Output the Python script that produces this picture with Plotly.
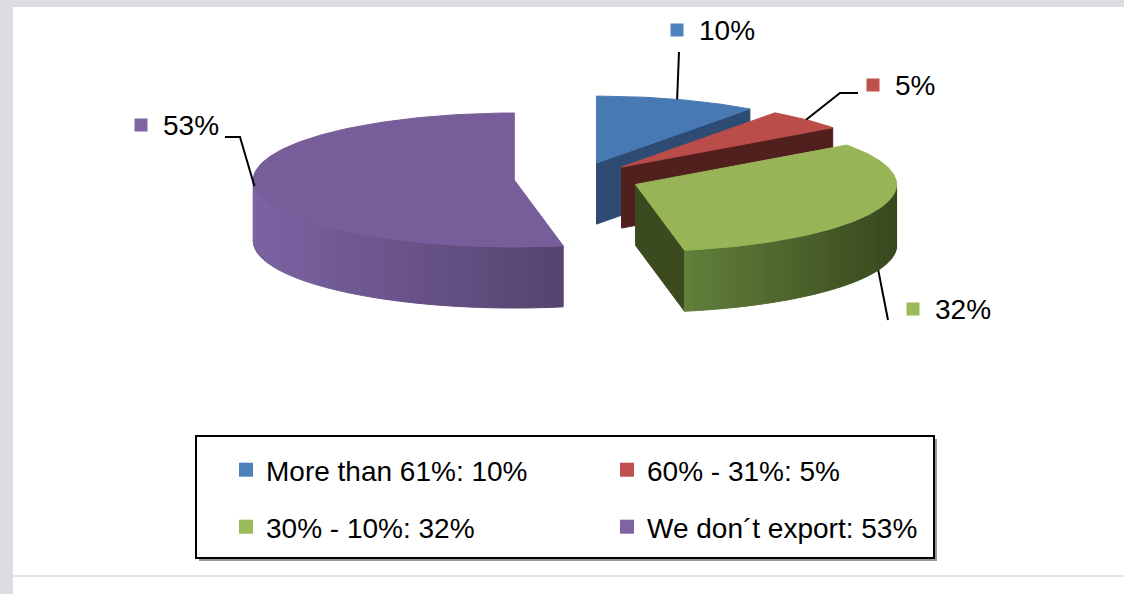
import numpy as np
import plotly.graph_objects as go

# ---- data -------------------------------------------------------------
categories = ["More than 61%", "60% - 31%", "30% - 10%", "We don\u00b4t export"]
shares = [10, 5, 32, 53]

# ---- styling ----------------------------------------------------------
top_colors = ["#4879b3", "#ba4c49", "#97b556", "#775d99"]
legend_colors = ["#4f81bd", "#c0504d", "#9bbb59", "#8064a2"]
face_colors = ["#2d4b73", "#521f1f", "#3c4a1f", "#574470"]
wall_light = ["#4a7bb5", "#9a3f3c", "#61803a", "#7b63a2"]
wall_dark = ["#2d4b73", "#521f1f", "#39481e", "#56436f"]

FONT = "Liberation Sans, Arial, sans-serif"
W, H = 1124, 594

# pie geometry in page pixels
CX, CY = 577.0, 178.5
RX, RY = 261.0, 67.0
DEPTH = 61.0
EXPLODE = 63.0

# label placement: square marker centre, leader path from the slice to the label
label_layout = [
    dict(square=(677, 30), leader=[(679, 52)], anchor="top"),
    dict(square=(873, 85), leader=[(840, 93), (858, 93)], anchor="top"),
    dict(square=(913, 309), leader=[(888, 320)], anchor="bottom"),
    dict(square=(141, 125), leader=[(240, 137), (225, 137)], anchor="top"),
]


def hex_rgb(h):
    h = h.lstrip("#")
    return np.array([int(h[i:i + 2], 16) for i in (0, 2, 4)], dtype=float)


def mix(c1, c2, t):
    a, b = hex_rgb(c1), hex_rgb(c2)
    r = a + (b - a) * t
    return "rgb({:.0f},{:.0f},{:.0f})".format(*r)


def point(theta, ox, oy, r=1.0, dz=0.0):
    t = np.radians(theta)
    return ox + RX * r * np.sin(t), oy - RY * r * np.cos(t) + dz


def poly(fig, xs, ys, color):
    fig.add_trace(go.Scatter(
        x=list(xs) + [xs[0]], y=list(ys) + [ys[0]], mode="lines",
        fill="toself", fillcolor=color, line=dict(color=color, width=1),
        hoverinfo="skip", showlegend=False))


fig = go.Figure()

total = float(sum(shares))
bounds = np.concatenate([[0.0], np.cumsum(shares) / total * 360.0])
slices = []
for i, v in enumerate(shares):
    a0, a1 = bounds[i], bounds[i + 1]
    mid = 0.5 * (a0 + a1)
    ox = CX + EXPLODE * np.sin(np.radians(mid))
    oy = CY - EXPLODE * (RY / RX) * np.cos(np.radians(mid))
    slices.append((a0, a1, mid, ox, oy))

# slices are painted back to front: each one gets its visible faces, then its top
for i, (a0, a1, mid, ox, oy) in enumerate(slices):
    # radial side faces that turn towards the viewer
    for edge, normal in ((a0, a0 - 90.0), (a1, a1 + 90.0)):
        if np.cos(np.radians(normal)) < -0.05:
            ex, ey = point(edge, ox, oy)
            poly(fig, [ox, ex, ex, ox], [oy, ey, ey + DEPTH, oy + DEPTH], face_colors[i])

    # front part of the curved outer wall, shaded left to right
    w0, w1 = max(a0, 90.0), min(a1, 270.0)
    if w0 < w1:
        n = max(int((w1 - w0) / 2.0), 2)
        th = np.linspace(w0, w1, n + 1)
        px = [point(t, ox, oy)[0] for t in th]
        xmin, xmax = min(px), max(px)
        for k in range(n):
            ta, tb = th[k], th[k + 1]
            xa, ya = point(ta, ox, oy)
            xb, yb = point(tb, ox, oy)
            tmix = ((xa + xb) / 2 - xmin) / (xmax - xmin)
            col = mix(wall_light[i], wall_dark[i], tmix)
            poly(fig, [xa, xb, xb, xa], [ya, yb, yb + DEPTH, ya + DEPTH], col)

    # top surface
    th = np.linspace(a0, a1, max(int(a1 - a0), 4) + 1)
    xs = [ox] + [point(t, ox, oy)[0] for t in th]
    ys = [oy] + [point(t, ox, oy)[1] for t in th]
    poly(fig, xs, ys, top_colors[i])

# data labels with leader lines
annotations = []
for i, (a0, a1, mid, ox, oy) in enumerate(slices):
    lay = label_layout[i]
    sx, sy = point(mid, ox, oy)
    if lay["anchor"] == "bottom":
        sy += DEPTH
    lx = [sx] + [p[0] for p in lay["leader"]]
    ly = [sy] + [p[1] for p in lay["leader"]]
    fig.add_trace(go.Scatter(x=lx, y=ly, mode="lines", line=dict(color="black", width=2),
                             hoverinfo="skip", showlegend=False))
    qx, qy = lay["square"]
    fig.add_trace(go.Scatter(x=[qx], y=[qy], mode="markers",
                             marker=dict(symbol="square", size=13, color=legend_colors[i]),
                             hoverinfo="skip", showlegend=False))
    annotations.append(dict(x=qx + 20, y=qy, xref="x", yref="y", text=f"{shares[i]}%",
                            showarrow=False, xanchor="left", yanchor="middle",
                            font=dict(family=FONT, size=28, color="black")))

# legend entries: two rows of two
for i, (cat, v) in enumerate(zip(categories, shares)):
    fig.add_trace(go.Scatter(
        x=[None], y=[None], mode="markers", name=f"{cat}: {v}%",
        marker=dict(symbol="square", size=14, color=legend_colors[i]),
        legend="legend" if i < 2 else "legend2", showlegend=True))

legend_common = dict(orientation="h", xanchor="left", yanchor="middle",
                     entrywidth=336, entrywidthmode="pixels",
                     font=dict(family=FONT, size=28, color="black"),
                     bgcolor="rgba(0,0,0,0)", borderwidth=0, itemclick=False,
                     itemdoubleclick=False)

shapes = [
    # page frame
    dict(type="rect", xref="x", yref="y", x0=0, x1=13, y0=0, y1=H,
         fillcolor="#dcdde1", line=dict(width=0), layer="below"),
    dict(type="rect", xref="x", yref="y", x0=0, x1=W, y0=0, y1=7,
         fillcolor="#dcdde1", line=dict(width=0), layer="below"),
    dict(type="line", xref="x", yref="y", x0=13, x1=W, y0=576, y1=576,
         line=dict(color="#dcdde1", width=1.5), layer="below"),
    # legend box with shadow
    dict(type="rect", xref="x", yref="y", x0=199, x1=937, y0=439, y1=561,
         fillcolor="#9a9a9a", line=dict(width=0), layer="below"),
    dict(type="rect", xref="x", yref="y", x0=196, x1=934, y0=436, y1=558,
         fillcolor="white", line=dict(color="black", width=2), layer="below"),
]

fig.update_layout(
    width=W, height=H, margin=dict(l=0, r=0, t=0, b=0),
    paper_bgcolor="white", plot_bgcolor="white",
    xaxis=dict(range=[0, W], visible=False, fixedrange=True),
    yaxis=dict(range=[H, 0], visible=False, fixedrange=True),
    legend=dict(x=226 / W, y=1 - 470 / H, **legend_common),
    legend2=dict(x=226 / W, y=1 - 527 / H, **legend_common),
    shapes=shapes, annotations=annotations, showlegend=True,
    font=dict(family=FONT),
)

fig.write_html("out.html")
